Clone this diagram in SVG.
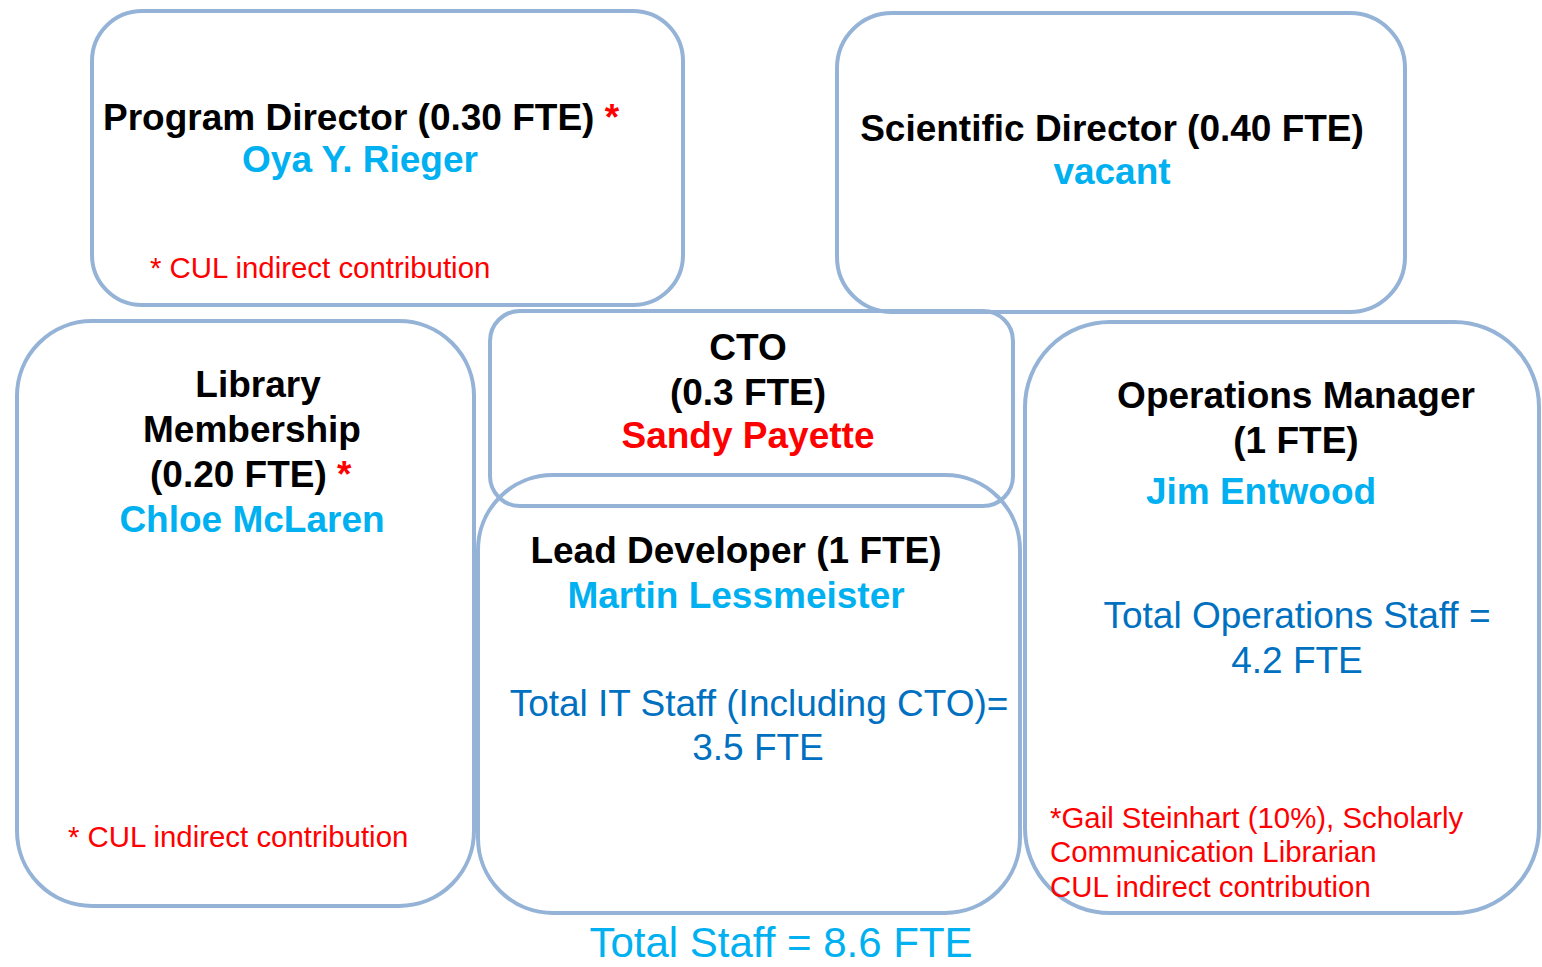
<svg xmlns="http://www.w3.org/2000/svg" width="1542" height="967" viewBox="0 0 1542 967">
<style>
.box{fill:none;stroke:#95b3d7;stroke-width:4}
text{font-family:"Liberation Sans",Arial,sans-serif}
.b{font-weight:bold;font-size:37px;fill:#000}
.cy{font-weight:bold;font-size:37px;fill:#00b0f0}
.rd{font-size:29.4px;fill:#ff0000}
.bl{font-size:37px;fill:#0070c0}
.c{text-anchor:middle}
</style>
<rect width="1542" height="967" fill="#fff"/>
<g id="program-director">
<rect class="box" x="92" y="11" width="591" height="294" rx="50"/>
<text class="b" x="103" y="130">Program Director (0.30 FTE) <tspan fill="#ff0000">*</tspan></text>
<text class="cy c" x="360" y="172">Oya Y. Rieger</text>
<text class="rd" x="150" y="278">* CUL indirect contribution</text>
</g>
<g id="scientific-director">
<rect class="box" x="837" y="13" width="568" height="299" rx="55"/>
<text class="b c" x="1112" y="141">Scientific Director (0.40 FTE)</text>
<text class="cy c" x="1112" y="184">vacant</text>
</g>
<g id="library-membership">
<rect class="box" x="17" y="321" width="457" height="585" rx="75"/>
<text class="b c" x="258" y="397">Library</text>
<text class="b c" x="252" y="442">Membership</text>
<text class="b" x="150" y="487">(0.20 FTE) <tspan fill="#ff0000">*</tspan></text>
<text class="cy c" x="252" y="532">Chloe McLaren</text>
<text class="rd" x="68" y="847">* CUL indirect contribution</text>
</g>
<g id="lead-developer">
<rect class="box" x="478" y="475" width="542" height="438" rx="75"/>
<text class="b c" x="736" y="563">Lead Developer (1 FTE)</text>
<text class="cy c" x="736" y="608">Martin Lessmeister</text>
<text class="bl c" x="759" y="716">Total IT Staff (Including CTO)=</text>
<text class="bl c" x="758" y="760">3.5 FTE</text>
</g>
<g id="cto">
<rect class="box" x="490" y="311" width="523" height="195" rx="30"/>
<text class="b c" x="748" y="360">CTO</text>
<text class="b c" x="748" y="405">(0.3 FTE)</text>
<text class="c" x="748" y="448" font-weight="bold" font-size="37" fill="#ff0000">Sandy Payette</text>
</g>
<g id="operations-manager">
<rect class="box" x="1025" y="322" width="514" height="591" rx="85"/>
<text class="b c" x="1296" y="408">Operations Manager</text>
<text class="b c" x="1296" y="453">(1 FTE)</text>
<text class="cy c" x="1261" y="504">Jim Entwood</text>
<text class="bl c" x="1297" y="628">Total Operations Staff =</text>
<text class="bl c" x="1297" y="673">4.2 FTE</text>
<text class="rd" x="1050" y="828">*Gail Steinhart (10%), Scholarly</text>
<text class="rd" x="1050" y="862">Communication Librarian</text>
<text class="rd" x="1050" y="897">CUL indirect contribution</text>
</g>
<g id="connectors"></g>
<g id="total">
<text class="c" x="781" y="957" font-size="42" fill="#00b0f0">Total Staff = 8.6 FTE</text>
</g>
</svg>
